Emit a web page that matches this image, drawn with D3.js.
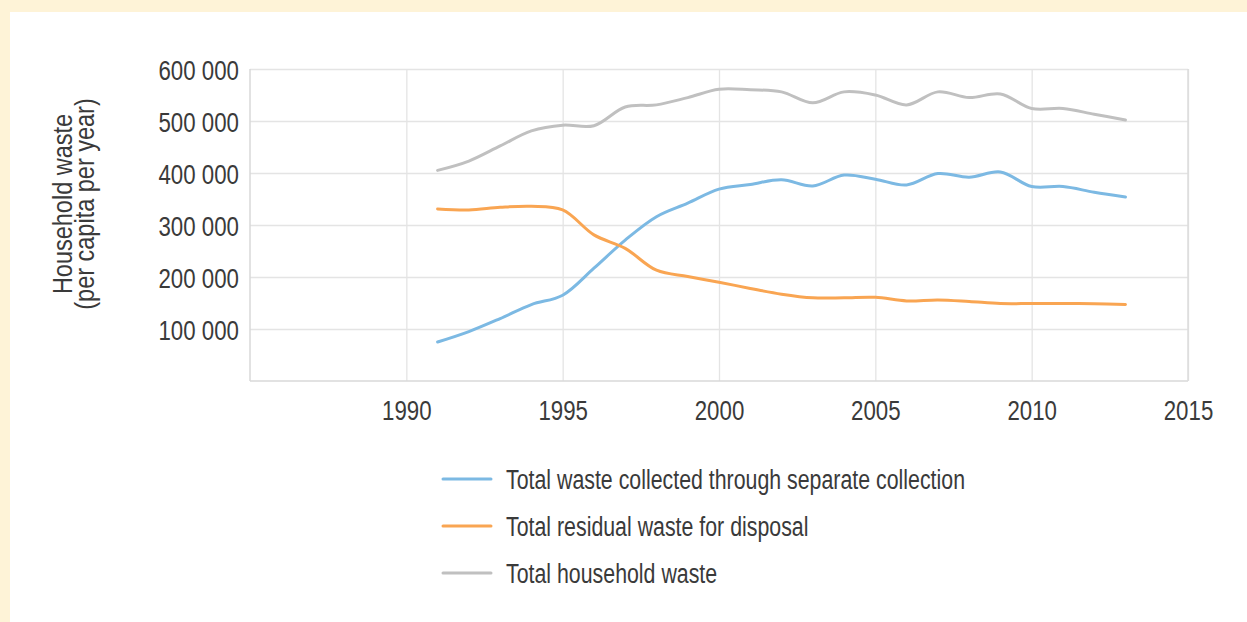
<!DOCTYPE html>
<html>
<head>
<meta charset="utf-8">
<script src="https://cdn.jsdelivr.net/npm/d3@7"></script>
<style>
  html, body { margin: 0; padding: 0; background: #fef3d7; }
  svg { display: block; }
  text { font-family: "Liberation Sans", Arial, Helvetica, sans-serif; fill: #3a3a3a; }
</style>
</head>
<body>
<script>
const years = [1991,1992,1993,1994,1995,1996,1997,1998,1999,2000,2001,2002,2003,2004,2005,2006,2007,2008,2009,2010,2011,2012,2013];
const separate = [75000,95000,120000,147000,165000,217000,271000,316000,342000,369000,378000,387000,375000,396000,388000,377000,399000,392000,402000,374000,374000,363000,354000];
const residual = [331000,329000,334000,336000,329000,281000,255000,213000,201000,190000,178000,167000,160000,160000,161000,154000,156000,153000,149000,149000,149000,148500,147000];
const total = [405000,423000,452000,481000,492000,491000,527000,531000,545000,561000,560000,556000,535000,556000,550000,531000,556000,545000,552000,524000,524000,513000,502000];
const xTicks = [1990,1995,2000,2005,2010,2015];
const yTicks = [100000,200000,300000,400000,500000,600000];
const seriesNames = ["Total waste collected through separate collection","Total residual waste for disposal","Total household waste"];
const colors = ["#7cb9e3","#f9a552","#c0c0c0"];
const yTitle = ["Household waste","(per capita per year)"];

const W = 1247, H = 622;
const svg = d3.select("body").append("svg").attr("width", W).attr("height", H);
svg.append("rect").attr("x",0).attr("y",0).attr("width",W).attr("height",H).attr("fill","#fef3d7");
svg.append("rect").attr("x",10).attr("y",12).attr("width",W-10).attr("height",H-12).attr("fill","#ffffff");

const x = d3.scaleLinear().domain([1985, 2015]).range([250, 1188]);
const y = d3.scaleLinear().domain([0, 600000]).range([381, 69]);

// condense text horizontally (narrow typeface look)
function condense(sel, f) {
  sel.each(function() {
    const L = this.getComputedTextLength();
    d3.select(this).attr("textLength", L * f).attr("lengthAdjust", "spacingAndGlyphs");
  });
}

// horizontal grid
const gy = svg.append("g").attr("transform","translate(250,0)")
  .call(d3.axisLeft(y).tickValues(yTicks).tickSize(-(1188-250)).tickPadding(11)
    .tickFormat(d => d3.format(",")(d).replace(/,/g," ")));
gy.select(".domain").remove();
gy.selectAll("line").attr("stroke","#e4e4e4").attr("stroke-width",1.3);
gy.selectAll("text").attr("font-size","27.5px").attr("font-family",null).attr("fill","#3a3a3a").attr("dy",null).attr("y",10);
condense(gy.selectAll("text"), 0.81);

// vertical grid
const gx = svg.append("g").attr("transform","translate(0,381)")
  .call(d3.axisBottom(x).tickValues(xTicks).tickSize(-(381-69)).tickPadding(0)
    .tickFormat(d3.format("d")));
gx.select(".domain").remove();
gx.selectAll("line").attr("stroke","#e4e4e4").attr("stroke-width",1.3);
gx.selectAll("text").attr("font-size","27.5px").attr("font-family",null).attr("fill","#3a3a3a").attr("dy",null).attr("y",39);
condense(gx.selectAll("text"), 0.81);

// frame left, bottom, right
svg.append("line").attr("x1",250).attr("x2",250).attr("y1",69).attr("y2",381).attr("stroke","#d9d9d9").attr("stroke-width",1.5);
svg.append("line").attr("x1",250).attr("x2",1188).attr("y1",381).attr("y2",381).attr("stroke","#d9d9d9").attr("stroke-width",1.5);
svg.append("line").attr("x1",1188).attr("x2",1188).attr("y1",69).attr("y2",381).attr("stroke","#dcdcdc").attr("stroke-width",1.5);

const line = d3.line().x((d,i)=>x(years[i])).y(d=>y(d)).curve(d3.curveCatmullRom.alpha(0.5));
[separate, residual, total].forEach((s,k)=>{
  svg.append("path").datum(s).attr("d",line).attr("fill","none")
    .attr("stroke",colors[k]).attr("stroke-width",3).attr("stroke-linecap","round");
});

// y title
const tg = svg.append("g");
yTitle.forEach((t,i)=>{
  tg.append("text").attr("transform",`translate(${72+i*21.5},204) rotate(-90)`)
    .attr("text-anchor","middle").attr("font-size","27px").attr("fill","#1e1e1e").text(t);
});
condense(tg.selectAll("text"), 0.87);

// legend
const legY = [479, 526, 573];
const lg = svg.append("g");
seriesNames.forEach((n,i)=>{
  lg.append("line").attr("x1",443).attr("x2",491).attr("y1",legY[i]).attr("y2",legY[i])
    .attr("stroke",colors[i]).attr("stroke-width",3).attr("stroke-linecap","round");
  lg.append("text").attr("x",506).attr("y",legY[i]+9.5).attr("font-size","27px").attr("fill","#3a3a3a").text(n);
});
const firstLen = lg.select("text").node().getComputedTextLength();
condense(lg.selectAll("text"), 459 / firstLen);
</script>
</body>
</html>
